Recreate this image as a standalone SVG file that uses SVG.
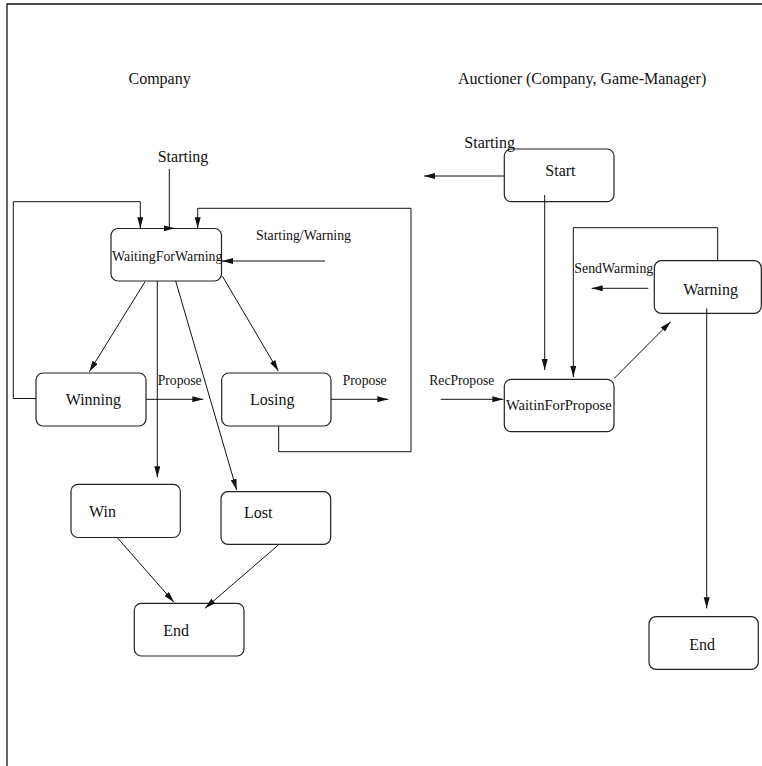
<svg xmlns="http://www.w3.org/2000/svg" width="762" height="766" viewBox="0 0 762 766">
  <style>
    .frame { fill: none; stroke: #111; stroke-width: 1.3; }
    .state { fill: #fff; stroke: #222; stroke-width: 1.2; }
    .edge { fill: none; stroke: #111; stroke-width: 1; }
    text { font-family: "Liberation Serif", "Times New Roman", serif; fill: #111; }
    .big { font-size: 16px; }
    .small { font-size: 14px; }
  </style>
  <defs>
    <marker id="arrow" markerUnits="userSpaceOnUse" markerWidth="12" markerHeight="7" refX="11" refY="3" orient="auto">
      <path d="M0,0 L11,3 L0,6 z" fill="#111"/>
    </marker>
  </defs>

  <rect width="762" height="766" fill="#fff"/>
  <!-- page frame (top and left edges) -->
  <path class="frame" d="M7,766 V4 H762"/>

  <!-- column titles -->
  <text class="big" x="128.5" y="84">Company</text>
  <text class="big" x="458" y="84">Auctioner (Company, Game-Manager)</text>

  <!-- Company state machine -->
  <g id="waiting-for-warning">
    <rect class="state" x="111" y="228.5" width="110.5" height="52.5" rx="7"/>
    <text class="small" x="112" y="261" textLength="110.5" lengthAdjust="spacingAndGlyphs">WaitingForWarning</text>
  </g>
  <g id="winning">
    <rect class="state" x="36" y="373" width="110" height="53" rx="7"/>
    <text class="big" x="65.7" y="405">Winning</text>
  </g>
  <g id="losing">
    <rect class="state" x="221.7" y="373" width="109.3" height="53" rx="7"/>
    <text class="big" x="250" y="405">Losing</text>
  </g>
  <g id="win">
    <rect class="state" x="71" y="484.3" width="109.3" height="53.2" rx="7"/>
    <text class="big" x="89" y="517.3">Win</text>
  </g>
  <g id="lost">
    <rect class="state" x="221" y="491.7" width="109.7" height="52.6" rx="7"/>
    <text class="big" x="244" y="518">Lost</text>
  </g>
  <g id="end-company">
    <rect class="state" x="134.3" y="603.3" width="109.7" height="52.7" rx="7"/>
    <text class="big" x="163.3" y="636">End</text>
  </g>

  <!-- Auctioner state machine -->
  <g id="start">
    <rect class="state" x="504.3" y="149" width="109.7" height="52.7" rx="7"/>
    <text class="big" x="545.3" y="176">Start</text>
  </g>
  <g id="warning">
    <rect class="state" x="654.3" y="260.7" width="107" height="52.6" rx="7"/>
    <text class="big" x="683.3" y="295">Warning</text>
  </g>
  <g id="waitin-for-propose">
    <rect class="state" x="504.3" y="379.3" width="109.7" height="52.4" rx="7"/>
    <text class="small" x="506" y="410" textLength="105.7" lengthAdjust="spacingAndGlyphs">WaitinForPropose</text>
  </g>
  <g id="end-auctioner">
    <rect class="state" x="649" y="616.7" width="109.3" height="52.6" rx="7"/>
    <text class="big" x="689.3" y="650">End</text>
  </g>

  <!-- transitions -->
  <g id="connectors">
    <!-- Company -->
    <path class="edge" d="M169.3,169 V228.3 H174.5" marker-end="url(#arrow)"/>
    <path class="edge" d="M36,398.5 H13.3 V201.7 H140.3 V228.3" marker-end="url(#arrow)"/>
    <path class="edge" d="M278.7,426 V451.7 H411 V208.3 H197.7 V228.3" marker-end="url(#arrow)"/>
    <path class="edge" d="M325,261 H222" marker-end="url(#arrow)"/>
    <path class="edge" d="M145,281.7 L89.3,371.7" marker-end="url(#arrow)"/>
    <path class="edge" d="M222.3,276 L278.3,371" marker-end="url(#arrow)"/>
    <path class="edge" d="M146,399.3 H203.3" marker-end="url(#arrow)"/>
    <path class="edge" d="M331,399.3 H388.3" marker-end="url(#arrow)"/>
    <path class="edge" d="M157.3,281 V477.3" marker-end="url(#arrow)"/>
    <path class="edge" d="M175.7,281 L236.7,490" marker-end="url(#arrow)"/>
    <path class="edge" d="M117.3,537.7 L174,602.3" marker-end="url(#arrow)"/>
    <path class="edge" d="M278.3,545 L205,608.3" marker-end="url(#arrow)"/>
    <!-- Auctioner -->
    <path class="edge" d="M504.3,176 H424" marker-end="url(#arrow)"/>
    <path class="edge" d="M544.7,195 V370" marker-end="url(#arrow)"/>
    <path class="edge" d="M717.7,260.7 V227.7 H573.3 V377" marker-end="url(#arrow)"/>
    <path class="edge" d="M648.3,288.3 H591.7" marker-end="url(#arrow)"/>
    <path class="edge" d="M614.3,378.3 L670.7,321.7" marker-end="url(#arrow)"/>
    <path class="edge" d="M440.7,399.3 H503.3" marker-end="url(#arrow)"/>
    <path class="edge" d="M706.7,308.3 V608.3" marker-end="url(#arrow)"/>
  </g>

  <!-- transition labels -->
  <g id="labels">
    <text class="big" x="157.7" y="161.7">Starting</text>
    <text class="small" x="256" y="240" textLength="95" lengthAdjust="spacingAndGlyphs">Starting/Warning</text>
    <text class="small" x="157.7" y="385" textLength="44" lengthAdjust="spacingAndGlyphs">Propose</text>
    <text class="small" x="342.7" y="385" textLength="44" lengthAdjust="spacingAndGlyphs">Propose</text>
    <text class="big" x="464.3" y="148.3">Starting</text>
    <text class="small" x="574.3" y="273.3" textLength="79" lengthAdjust="spacingAndGlyphs">SendWarming</text>
    <text class="small" x="429.3" y="385" textLength="65" lengthAdjust="spacingAndGlyphs">RecPropose</text>
  </g>
</svg>
